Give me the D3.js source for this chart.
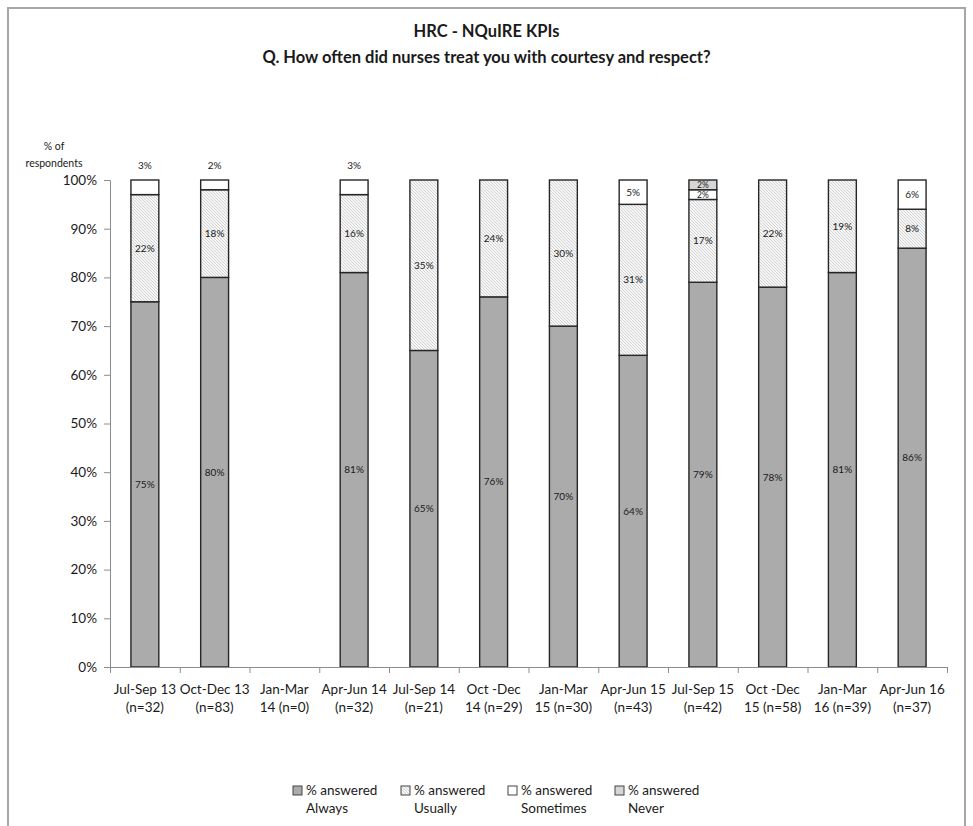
<!DOCTYPE html>
<html>
<head>
<meta charset="utf-8">
<script src="https://cdn.jsdelivr.net/npm/d3@7"></script>
<style>
  body { margin: 0; background: #fff; }
  svg { display: block; }
  text { font-family: Lato, "Open Sans", sans-serif; fill: #1a1a1a; }
</style>
</head>
<body>
<svg id="chart" width="973" height="826"></svg>
<script>
// Quarter labels (line break between the two label lines)
const categories = [
  "Jul-Sep 13\n(n=32)", "Oct-Dec 13\n(n=83)", "Jan-Mar\n14 (n=0)", "Apr-Jun 14\n(n=32)",
  "Jul-Sep 14\n(n=21)", "Oct -Dec\n14 (n=29)", "Jan-Mar\n15 (n=30)", "Apr-Jun 15\n(n=43)",
  "Jul-Sep 15\n(n=42)", "Oct -Dec\n15 (n=58)", "Jan-Mar\n16 (n=39)", "Apr-Jun 16\n(n=37)"
];
// Share of respondents per answer (%)
const always    = [75, 80, 0, 81, 65, 76, 70, 64, 79, 78, 81, 86];
const usually   = [22, 18, 0, 16, 35, 24, 30, 31, 17, 22, 19, 8];
const sometimes = [3, 2, 0, 3, 0, 0, 0, 5, 2, 0, 0, 6];
const never     = [0, 0, 0, 0, 0, 0, 0, 0, 2, 0, 0, 0];
const seriesKeys = ["Always", "Usually", "Sometimes", "Never"];
const yTicks = [0, 10, 20, 30, 40, 50, 60, 70, 80, 90, 100];
const titleLines = ["HRC - NQuIRE KPIs", "Q. How often did nurses treat you with courtesy and respect?"];

const rows = categories.map((c, i) => ({
  cat: c, Always: always[i], Usually: usually[i], Sometimes: sometimes[i], Never: never[i]
}));

const svg = d3.select("#chart");
const W = 973;

// hatch pattern for "Usually"
const defs = svg.append("defs");
const pat = defs.append("pattern")
  .attr("id", "hatch").attr("patternUnits", "userSpaceOnUse")
  .attr("width", 3).attr("height", 3);
pat.append("rect").attr("width", 3).attr("height", 3).attr("fill", "#f7f7f7");
pat.append("path").attr("d", "M-1,-1 L4,4 M-1,2 L1,4 M2,-1 L4,1")
  .attr("stroke", "#c2c2c2").attr("stroke-width", 0.7);

const fills = { Always: "#ababab", Usually: "url(#hatch)", Sometimes: "#ffffff", Never: "#d6d6d6" };

// chart frame
svg.append("rect").attr("x", 8).attr("y", 8).attr("width", 957).attr("height", 840)
  .attr("fill", "none").attr("stroke", "#a6a6a6").attr("stroke-width", 2);

// title
svg.append("g").selectAll("text").data(titleLines).join("text")
  .attr("x", W / 2).attr("y", (d, i) => 37 + i * 26)
  .attr("text-anchor", "middle").attr("font-weight", "bold").attr("font-size", 16.5)
  .text(d => d);

// y-axis caption
svg.append("g").selectAll("text").data(["% of", "respondents"]).join("text")
  .attr("x", 54).attr("y", (d, i) => 150 + i * 17)
  .attr("text-anchor", "middle").attr("font-size", 10.5).text(d => d);

const x = d3.scaleBand().domain(categories).range([110, 947]).paddingInner(0.6).paddingOuter(0.3);
const xIdx = d3.scaleLinear().domain([0, categories.length]).range([110, 947]);
const y = d3.scaleLinear().domain([0, 100]).range([667, 180]);

// y axis
const yAxis = svg.append("g").attr("transform", "translate(110,0)")
  .call(d3.axisLeft(y).tickValues(yTicks).tickFormat(d => d + "%").tickSize(6).tickPadding(7));
yAxis.select(".domain").attr("stroke", "#8c8c8c");
yAxis.selectAll(".tick line").attr("stroke", "#8c8c8c");
yAxis.selectAll(".tick text").attr("font-size", 13.5).attr("font-family", "Lato, sans-serif").attr("fill", "#1a1a1a");

// stacked bars
const stack = d3.stack().keys(seriesKeys);
const layers = stack(rows);

const barG = svg.append("g");
layers.forEach(layer => {
  barG.append("g").selectAll("rect")
    .data(layer.filter(d => d[1] - d[0] > 0))
    .join("rect")
    .attr("x", d => x(d.data.cat))
    .attr("y", d => y(d[1]))
    .attr("width", x.bandwidth())
    .attr("height", d => y(d[0]) - y(d[1]))
    .attr("fill", fills[layer.key])
    .attr("stroke", "#262626").attr("stroke-width", 1.4);
});

// x axis: baseline, boundary ticks, two-line labels
const xAxis = svg.append("g").attr("transform", "translate(0,667)")
  .call(d3.axisBottom(xIdx).tickValues(d3.range(categories.length + 1)).tickFormat("").tickSize(6));
xAxis.select(".domain").attr("stroke", "#8c8c8c");
xAxis.selectAll(".tick line").attr("stroke", "#8c8c8c");

const xLab = svg.append("g").attr("transform", "translate(0,667)")
  .call(d3.axisBottom(x).tickSize(0).tickFormat(""));
xLab.select(".domain").remove();
xLab.selectAll(".tick").each(function (d) {
  const t = d3.select(this).append("text")
    .attr("text-anchor", "middle").attr("font-size", 13.5)
    .attr("font-family", "Lato, sans-serif").attr("fill", "#1a1a1a");
  d.split("\n").forEach((ln, i) => {
    t.append("tspan").attr("x", 0).attr("y", 27 + i * 18).text(ln);
  });
});

// value labels
const labG = svg.append("g").attr("text-anchor", "middle");
layers.forEach(layer => {
  labG.append("g").selectAll("text")
    .data(layer.filter(d => d[1] - d[0] > 0))
    .join("text")
    .attr("font-size", d => (y(d[0]) - y(d[1]) < 12 && !(layer.key === "Sometimes" && d.data.Never === 0)) ? 8.5 : 10)
    .attr("x", d => x(d.data.cat) + x.bandwidth() / 2)
    .attr("y", d => {
      const v = d[1] - d[0];
      // small "Sometimes" shares with nothing above them sit over the bar
      if (layer.key === "Sometimes" && v <= 3 && d.data.Never === 0) return y(100) - 15;
      return (y(d[0]) + y(d[1])) / 2;
    })
    .attr("dy", "0.35em")
    .text(d => (d[1] - d[0]) + "%");
});

// legend
const legX = [293, 401, 508, 615];
const leg = svg.append("g").selectAll("g").data(seriesKeys).join("g")
  .attr("transform", (d, i) => `translate(${legX[i]},786)`);
leg.append("rect").attr("width", 9).attr("height", 9)
  .attr("fill", d => fills[d]).attr("stroke", "#444").attr("stroke-width", 1);
leg.append("text").attr("x", 13).attr("y", 9).attr("font-size", 13.5).text("% answered");
leg.append("text").attr("x", 13).attr("y", 27).attr("font-size", 13.5).text(d => d);
</script>
</body>
</html>
